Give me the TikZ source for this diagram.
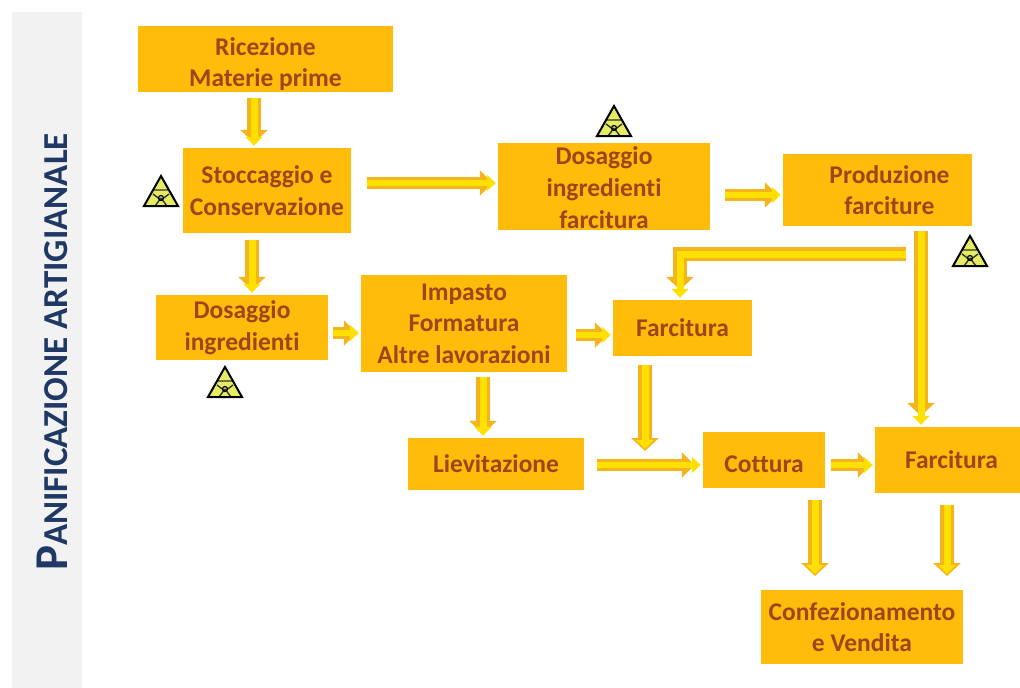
\documentclass[tikz,border=0pt]{standalone}
\usepackage{fontspec}
\setmainfont[Ligatures=NoCommon]{Carlito}
\usetikzlibrary{arrows.meta,calc}
\definecolor{boxor}{HTML}{FFBC0A}
\definecolor{boxtx}{HTML}{A0441C}
\definecolor{arrout}{HTML}{F4B51C}
\definecolor{arrin}{HTML}{FFE000}
\definecolor{band}{HTML}{F2F2F2}
\definecolor{navy}{HTML}{1F3864}
\definecolor{hazfill}{HTML}{E6EC62}
\newcommand{\lowered}[2]{\raisebox{-#1pt}[\height][0pt]{#2}}
\tikzset{
  x=1pt,y=-1pt,
  stagebox/.style={fill=boxor,draw=none,inner sep=0pt,align=center,text=boxtx,
    font=\fontsize{25.5}{31.5}\selectfont\bfseries},
  fat/.style={line width=14pt,draw=arrout,-{Triangle[length=13pt,width=27pt,color=arrout]},
    postaction={draw=arrin,line width=7pt,-{Triangle[length=9pt,width=17pt,color=arrin]},shorten >=2pt}},
  slim/.style={line width=12pt,draw=arrout,-{Triangle[length=13pt,width=25pt,color=arrout]},
    postaction={draw=arrin,line width=5.5pt,-{Triangle[length=9pt,width=16pt,color=arrin]},shorten >=2pt}},
  haz/.pic={
    \fill[hazfill] (0,-16) -- (17,14) -- (-17,14) -- cycle;
    \draw[black!80,line width=1.4pt] (-7,-2) -- (7,-2) (0,6) -- (-6,14) (0,6) -- (6,14) (-8,2) -- (0,8) -- (8,2);
    \draw[black,line width=1.2pt] (0,6) circle (2.5);
    \draw[black,line width=2pt,line join=miter] (0,-16) -- (17,14) -- (-17,14) -- cycle;
  }
}
\begin{document}
\begin{tikzpicture}
\useasboundingbox (0,0) rectangle (1020,688);
\fill[white] (0,0) rectangle (1020,688);
\node[fill=band,minimum width=70pt,minimum height=676pt,inner sep=0pt,anchor=north west] (sideband) at (12,12) {};
\node[rotate=90,text=navy,font=\bfseries\fontsize{35}{38}\selectfont] (sidetitle) at (52,352)
  {{\fontsize{47}{38}\selectfont P}ANIFICAZIONE ARTIGIANALE};

\newcommand{\stage}[6]{\node[stagebox,minimum width=#4pt-#2pt,minimum height=#5pt-#3pt] (#1) at ({(#2+#4)/2},{(#3+#5)/2}) {#6};}
\stage{ric}{138}{26}{393}{92}{\lowered{3}{Ricezione}\\\lowered{3}{Materie prime}}
\stage{sto}{183}{148}{351}{233}{Stoccaggio e\\Conservazione}
\stage{dif}{498}{143}{710}{230}{\lowered{1}{Dosaggio}\\\lowered{1}{ingredienti}\\\lowered{2}{farcitura}}
\stage{pro}{783}{154}{972}{226}{\hspace*{24pt}Produzione\\\hspace*{24pt}farciture}
\stage{dos}{156}{295}{328}{360}{Dosaggio\\ingredienti}
\stage{imp}{361}{275}{567}{372}{Impasto\\Formatura\\Altre lavorazioni}
\stage{fa}{613}{300}{752}{356}{Farcitura}
\stage{lie}{408}{438}{584}{490}{Lievitazione}
\stage{cot}{703}{432}{825}{488}{\lowered{4}{Cottura}}
\stage{fb}{875}{427}{1020}{493}{\hspace*{8pt}Farcitura}
\stage{con}{761}{590}{963}{664}{Confezionamento\\e Vendita}

\coordinate (faEnd) at (645,451);
\coordinate (cotEnd) at (815,576);
\coordinate (fbEnd) at (947,576);
\coordinate (elbow) at (680,254);
\coordinate (elbowStart) at (906,254);

\draw[fat,shorten <=6pt,shorten >=5pt] (ric.south -| 254,0) -- (sto.north -| 254,0);
\draw[slim,shorten <=16pt,shorten >=5pt] (sto.east |- 0,183) -- (dif.west |- 0,183);
\draw[slim,shorten <=15pt,shorten >=5pt] (dif.east |- 0,195) -- (pro.west |- 0,195);
\draw[fat,shorten <=7pt,shorten >=5pt] (sto.south -| 252,0) -- (dos.north -| 252,0);
\draw[slim,shorten <=5pt,shorten >=4pt] (dos.east |- 0,333) -- (imp.west |- 0,333);
\draw[slim,shorten <=9pt,shorten >=5pt] (imp.east |- 0,335) -- (fa.west |- 0,335);
\draw[fat,shorten <=5pt,shorten >=4pt] (imp.south -| 483,0) -- (lie.north -| 483,0);
\draw[fat,shorten <=9pt] (fa.south -| 645,0) -- (faEnd);
\draw[slim,shorten <=13pt,shorten >=8pt] (lie.east |- 0,465) -- (cot.west |- 0,465);
\draw[slim,shorten <=6pt,shorten >=4pt] (cot.east |- 0,465) -- (fb.west |- 0,465);
\draw[fat,shorten <=5pt,shorten >=11pt] (pro.south -| 921,0) -- (fb.north -| 921,0);
\draw[fat,shorten >=10pt,line join=miter] (elbowStart) -- (elbow) -- (fa.north -| 680,0);
\draw[fat,shorten <=12pt] (cot.south -| 815,0) -- (cotEnd);
\draw[fat,shorten <=12pt] (fb.south -| 947,0) -- (fbEnd);

\pic at (161,192) {haz};
\pic at (614,122) {haz};
\pic at (225,383) {haz};
\pic at (970,252) {haz};
\end{tikzpicture}
\end{document}
